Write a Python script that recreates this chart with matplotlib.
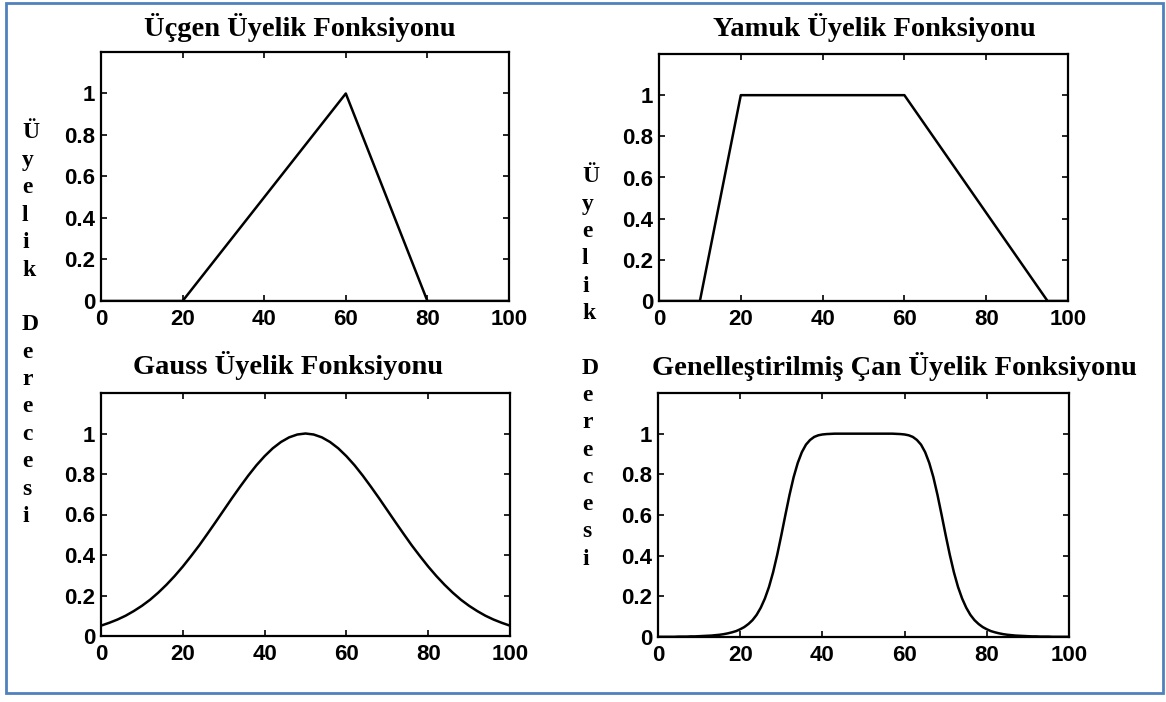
import matplotlib
matplotlib.use("Agg")
from matplotlib import pyplot as plt
from matplotlib.patches import Rectangle

W, H = 1166, 702

# --- veriler ---
ucgen_x = [0, 20, 60, 80, 100]
ucgen_y = [0, 0, 1, 0, 0]

yamuk_x = [0, 10, 20, 60, 95, 100]
yamuk_y = [0, 0, 1, 1, 0, 0]

gauss_x = list(range(0, 101, 2))
gauss_y = [0.051, 0.065, 0.081, 0.100, 0.123, 0.149, 0.179, 0.214, 0.253, 0.296,
           0.343, 0.394, 0.447, 0.504, 0.562, 0.621, 0.680, 0.737, 0.792, 0.843,
           0.888, 0.927, 0.958, 0.981, 0.995, 1.000, 0.995, 0.981, 0.958, 0.927,
           0.888, 0.843, 0.792, 0.737, 0.680, 0.621, 0.562, 0.504, 0.447, 0.394,
           0.343, 0.296, 0.253, 0.214, 0.179, 0.149, 0.123, 0.100, 0.081, 0.065,
           0.051]

can_x = list(range(0, 101))
can_y = [0.001, 0.001, 0.001, 0.001, 0.001, 0.002, 0.002, 0.002, 0.003, 0.003,
         0.004, 0.005, 0.006, 0.007, 0.009, 0.011, 0.014, 0.018, 0.023, 0.029,
         0.038, 0.049, 0.064, 0.083, 0.109, 0.144, 0.189, 0.246, 0.318, 0.404,
         0.500, 0.601, 0.699, 0.786, 0.856, 0.909, 0.946, 0.969, 0.984, 0.992,
         0.996, 0.998, 0.999, 1.000, 1.000, 1.000, 1.000, 1.000, 1.000, 1.000,
         1.000,
         1.000, 1.000, 1.000, 1.000, 1.000, 1.000, 1.000, 0.999, 0.998, 0.996,
         0.992, 0.984, 0.969, 0.946, 0.909, 0.856, 0.786, 0.699, 0.601, 0.500,
         0.404, 0.318, 0.246, 0.189, 0.144, 0.109, 0.083, 0.064, 0.049, 0.038,
         0.029, 0.023, 0.018, 0.014, 0.011, 0.009, 0.007, 0.006, 0.005, 0.004,
         0.003, 0.003, 0.002, 0.002, 0.002, 0.001, 0.001, 0.001, 0.001, 0.001]

basliklar = ["Üçgen Üyelik Fonksiyonu", "Yamuk Üyelik Fonksiyonu",
             "Gauss Üyelik Fonksiyonu", "Genelleştirilmiş Çan Üyelik Fonksiyonu"]
x_ticks = [0, 20, 40, 60, 80, 100]
y_ticks = [0, 0.2, 0.4, 0.6, 0.8, 1]
y_tick_labels = ["0", "0.2", "0.4", "0.6", "0.8", "1"]
etiket = list("Üyelik") + [""] + list("Derecesi")


def px_axes(l, r, t, b):
    return [l / W, (H - b) / H, (r - l) / W, (b - t) / H]


fig = plt.figure(figsize=(W / 100, H / 100), dpi=100)

kutular = [px_axes(101, 509, 52, 301), px_axes(659, 1068, 54, 301),
           px_axes(101, 510, 393, 636), px_axes(658, 1069, 393, 637)]
veriler = [(ucgen_x, ucgen_y), (yamuk_x, yamuk_y),
           (gauss_x, gauss_y), (can_x, can_y)]
baslik_yer = [(300, 28), (874, 28), (288, 365), (894, 367)]

for kutu, (x, y), baslik, (bx, by) in zip(kutular, veriler, basliklar, baslik_yer):
    ax = fig.add_axes(kutu)
    ax.plot(x, y, color="black", linewidth=1.8)
    ax.set_xlim(0, 100)
    ax.set_ylim(0, 1.2)
    ax.set_xticks(x_ticks)
    ax.set_yticks(y_ticks)
    ax.set_yticklabels(y_tick_labels)
    ax.tick_params(direction="in", top=True, right=True, length=4, width=1.2,
                   labelsize=16)
    ax.tick_params(axis="x", pad=6)
    ax.tick_params(axis="y", pad=4)
    for lab in ax.get_xticklabels() + ax.get_yticklabels():
        lab.set_family("Liberation Sans")
        lab.set_fontweight("bold")
    for sp in ax.spines.values():
        sp.set_linewidth(1.6)
    fig.text(bx / W, 1 - by / H, baslik, ha="center", va="center",
             family="Liberation Serif", fontweight="bold", fontsize=20.5)

# dikey eksen etiketi, harf harf
for (x0, y0, adim) in [(22, 133, 27.4), (582, 177, 27.3)]:
    for i, harf in enumerate(etiket):
        if harf:
            fig.text(x0 / W, 1 - (y0 + i * adim) / H, harf, ha="left", va="center",
                     family="Liberation Serif", fontweight="bold", fontsize=17)

# mavi cerceve
fig.patches.append(Rectangle((6 / W, 9 / H), 1157 / W, 690 / H, transform=fig.transFigure,
                             fill=False, edgecolor="#4f81bd", linewidth=2))

fig.savefig("out.png", dpi=100)
